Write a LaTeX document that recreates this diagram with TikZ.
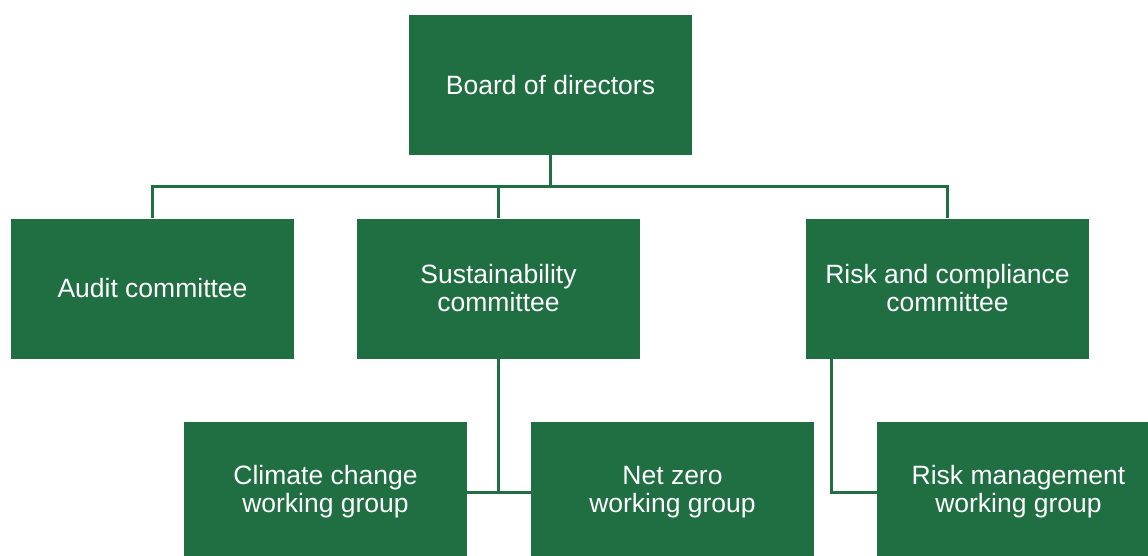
\documentclass[tikz,border=0pt]{standalone}
\usepackage{fontspec}
\setmainfont{Liberation Sans}
\definecolor{boardgreen}{RGB}{31,111,67}

\def\bW{283pt}
\def\bH{140pt}

\begin{document}
\begin{tikzpicture}[x=1pt, y=-1pt,
    unit/.style={rectangle, fill=boardgreen, text=white, minimum width=\bW, minimum height=\bH,
                 align=center, inner sep=0pt, font=\fontsize{26.5}{28}\selectfont},
    link/.style={draw=boardgreen, line width=3pt}]
    \useasboundingbox (0,0) rectangle (1148,555);
    \clip (0,0) rectangle (1148,555);

    %%   (lable)  (x, y)     {\text}
    \node[unit] (B)  at ( 550.5,  85.0) {Board of directors};

    \node[unit] (A)  at ( 152.5, 288.5) {Audit committee};
    \node[unit] (S)  at ( 498.5, 288.5) {Sustainability\\committee};
    \node[unit] (RC) at ( 947.5, 288.5) {Risk and compliance\\committee};

    \node[unit] (CC) at ( 325.5, 492.0) {Climate change\\working group};
    \node[unit] (NZ) at ( 672.5, 492.0) {Net zero\\working group};
    \node[unit] (RM) at (1018.5, 492.0) {Risk management\\working group};

    \coordinate (bus) at (550.5, 186);

    \path[link] (B.south) -- (bus);
    \path[link] (A.north) |- (bus) -| (RC.north);
    \path[link] (S.north) -- (S.north |- bus);
    %
    \path[link] (S.south) -- (S.south |- CC.east);
    \path[link] (CC.east) -- (NZ.west);
    \path[link] ([xshift=26pt]RC.south west) |- (RM.west);

  \end{tikzpicture}
\end{document}
